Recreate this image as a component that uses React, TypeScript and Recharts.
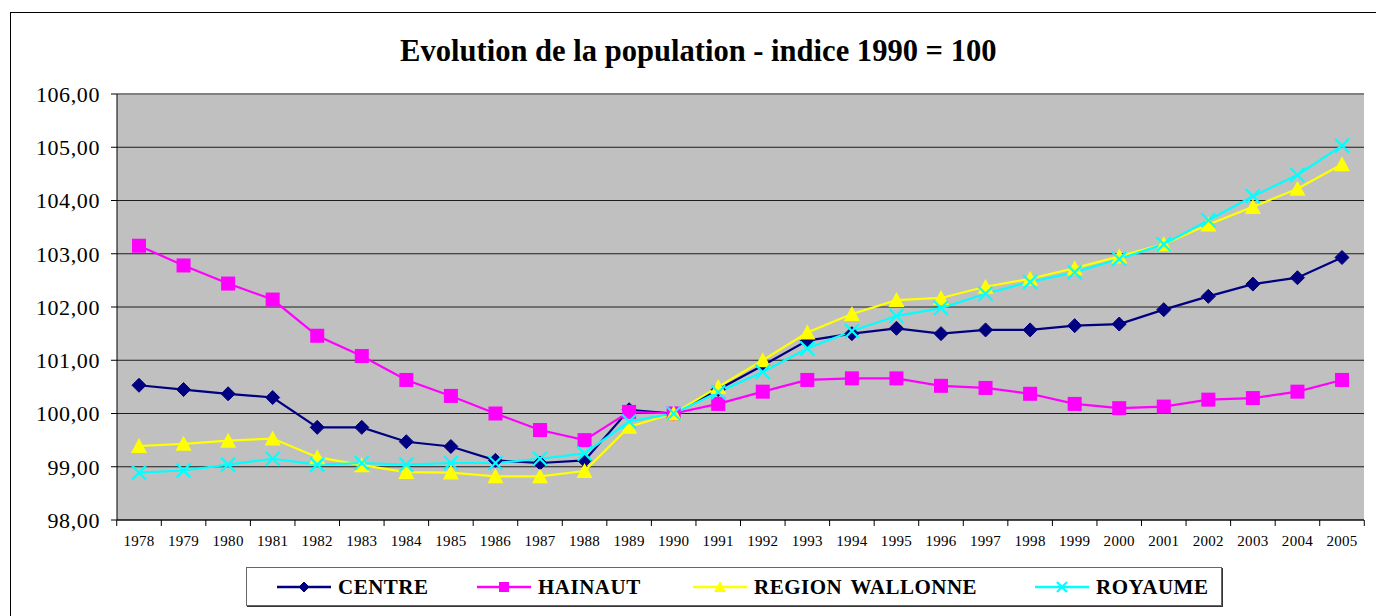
import React from "react";
import {
  LineChart,
  Line,
  XAxis,
  YAxis,
  CartesianGrid,
  Legend,
  ReferenceLine,
} from "recharts";

const years = [
  "1978", "1979", "1980", "1981", "1982", "1983", "1984", "1985", "1986", "1987",
  "1988", "1989", "1990", "1991", "1992", "1993", "1994", "1995", "1996", "1997",
  "1998", "1999", "2000", "2001", "2002", "2003", "2004", "2005",
];

const centre = [
  100.53, 100.45, 100.37, 100.3, 99.74, 99.74, 99.47, 99.38, 99.12, 99.07,
  99.12, 100.07, 100.0, 100.45, 100.9, 101.37, 101.5, 101.6, 101.5, 101.57,
  101.57, 101.65, 101.68, 101.95, 102.2, 102.43, 102.55, 102.93,
];

const hainaut = [
  103.15, 102.78, 102.44, 102.14, 101.46, 101.08, 100.63, 100.33, 100.0, 99.69,
  99.5, 100.03, 100.0, 100.18, 100.41, 100.63, 100.66, 100.66, 100.52, 100.48,
  100.37, 100.18, 100.1, 100.13, 100.26, 100.29, 100.41, 100.63,
];

const wallonne = [
  99.39, 99.43, 99.49, 99.53, 99.18, 99.03, 98.9, 98.89, 98.82, 98.82,
  98.92, 99.75, 100.0, 100.5, 101.0, 101.52, 101.87, 102.13, 102.17, 102.38,
  102.53, 102.73, 102.95, 103.18, 103.55, 103.88, 104.22, 104.68,
];

const royaume = [
  98.89, 98.93, 99.04, 99.15, 99.04, 99.07, 99.04, 99.07, 99.07, 99.15,
  99.25, 99.85, 100.0, 100.4, 100.78, 101.22, 101.55, 101.83, 101.98, 102.25,
  102.47, 102.65, 102.9, 103.18, 103.63, 104.08, 104.48, 105.03,
];

const yTicks = [98, 99, 100, 101, 102, 103, 104, 105, 106];

const seriesNames = ["CENTRE", "HAINAUT", "REGION WALLONNE", "ROYAUME"];
const seriesColors = ["#000080", "#FF00FF", "#FFFF00", "#00FFFF"];
const seriesKeys = ["centre", "hainaut", "wallonne", "royaume"];
const seriesShapes = ["diamond", "square", "triangle", "cross"];

const data = years.map((y, i) => ({
  year: y,
  centre: centre[i],
  hainaut: hainaut[i],
  wallonne: wallonne[i],
  royaume: royaume[i],
}));

const SERIF = "Liberation Serif, serif";

function Marker({ shape, color, cx, cy, s = 7 }: any) {
  if (cx == null || cy == null) return null;
  if (shape === "diamond") {
    return (
      <polygon
        points={`${cx},${cy - s} ${cx + s},${cy} ${cx},${cy + s} ${cx - s},${cy}`}
        fill={color}
        stroke={color}
        strokeWidth={1}
      />
    );
  }
  if (shape === "square") {
    return <rect x={cx - s} y={cy - s} width={2 * s} height={2 * s} fill={color} />;
  }
  if (shape === "triangle") {
    return (
      <polygon
        points={`${cx},${cy - s - 1} ${cx + s + 1},${cy + s} ${cx - s - 1},${cy + s}`}
        fill={color}
      />
    );
  }
  return (
    <g stroke={color} strokeWidth={2.2}>
      <line x1={cx - s} y1={cy - s} x2={cx + s} y2={cy + s} />
      <line x1={cx - s} y1={cy + s} x2={cx + s} y2={cy - s} />
    </g>
  );
}

function makeDot(shape: string, color: string) {
  return (props: any) => (
    <Marker key={`${shape}-${props.index}`} shape={shape} color={color} cx={props.cx} cy={props.cy} />
  );
}

function XTick(props: any) {
  const { x, y, payload, index, width } = props;
  const step = width / years.length;
  return (
    <g>
      <line x1={x - step / 2} y1={y} x2={x - step / 2} y2={y + 6} stroke="#000" />
      {index === years.length - 1 && (
        <line x1={x + step / 2} y1={y} x2={x + step / 2} y2={y + 6} stroke="#000" />
      )}
      <text
        x={x}
        y={y + 21}
        textAnchor="middle"
        dominantBaseline="central"
        fontFamily={SERIF}
        fontSize={15}
        letterSpacing={0.3}
        fill="#000"
      >
        {payload.value}
      </text>
    </g>
  );
}

function LegendContent() {
  const lefts = [30, 230, 446, 788];
  return (
    <div
      style={{
        position: "absolute",
        left: 246,
        top: 567,
        width: 976,
        height: 39,
        border: "1px solid #666",
        boxShadow: "1px 1px 0 #333",
        background: "#fff",
        boxSizing: "border-box",
      }}
    >
      {seriesNames.map((name, i) => (
        <div
          key={name}
          style={{
            position: "absolute",
            left: lefts[i],
            top: 0,
            height: 37,
            display: "flex",
            alignItems: "center",
          }}
        >
          <svg width={54} height={20} style={{ display: "block" }}>
            <line x1={0} y1={10} x2={54} y2={10} stroke={seriesColors[i]} strokeWidth={2.5} />
            <Marker shape={seriesShapes[i]} color={seriesColors[i]} cx={27} cy={10} s={5} />
          </svg>
          <span
            style={{
              marginLeft: 7,
              fontFamily: SERIF,
              fontWeight: "bold",
              fontSize: 21,
              letterSpacing: 0.5,
              wordSpacing: 3,
              lineHeight: "24px",
              color: "#000",
              whiteSpace: "nowrap",
            }}
          >
            {name}
          </span>
        </div>
      ))}
    </div>
  );
}

export default function App() {
  return (
    <div
      style={{
        position: "relative",
        width: 1376,
        height: 616,
        overflow: "hidden",
        background: "#fff",
        fontFamily: SERIF,
      }}
    >
      <style>{`body{margin:0}`}</style>
      <div
        style={{
          position: "absolute",
          left: 10,
          top: 12,
          width: 1400,
          height: 700,
          border: "1px solid #000",
        }}
      />
      <div
        style={{
          position: "absolute",
          left: 0,
          width: 1397,
          top: 31,
          textAlign: "center",
        }}
      >
        <span
          style={{
            display: "inline-block",
            transform: "scaleX(0.955)",
            transformOrigin: "center",
            fontFamily: SERIF,
            fontWeight: "bold",
            fontSize: 32,
            lineHeight: "38px",
            color: "#000",
            whiteSpace: "nowrap",
          }}
        >
          Evolution de la population - indice 1990 = 100
        </span>
      </div>
      <div style={{ position: "absolute", left: 0, top: 0 }}>
        <LineChart
          width={1376}
          height={616}
          data={data}
          margin={{ top: 94, right: 12, left: 0, bottom: 66 }}
        >
          <CartesianGrid
            vertical={false}
            fill="#C0C0C0"
            stroke="#000"
            strokeOpacity={0.85}
          />
          <ReferenceLine y={106} stroke="#808080" strokeWidth={2} />
          <XAxis
            dataKey="year"
            interval={0}
            height={30}
            padding={{ left: 22, right: 22 }}
            tickSize={0}
            tickMargin={0}
            tickLine={false}
            axisLine={{ stroke: "#000" }}
            tick={<XTick />}
          />
          <YAxis
            width={117}
            domain={[98, 106]}
            ticks={yTicks}
            interval={0}
            tickSize={6}
            tickMargin={11}
            axisLine={{ stroke: "#000" }}
            tickLine={{ stroke: "#000" }}
            tickFormatter={(v: number) => v.toFixed(2).replace(".", ",")}
            tick={{ fontFamily: SERIF, fontSize: 22, fill: "#000", letterSpacing: 0.6 }}
          />
          <YAxis
            yAxisId="r"
            orientation="right"
            width={0}
            domain={[98, 106]}
            tick={false}
            tickLine={false}
            axisLine={{ stroke: "#808080", strokeWidth: 2 }}
          />
          {seriesKeys.map((k, i) => (
            <Line
              key={k}
              type="linear"
              dataKey={k}
              name={seriesNames[i]}
              stroke={seriesColors[i]}
              strokeWidth={2.2}
              dot={makeDot(seriesShapes[i], seriesColors[i])}
              activeDot={false}
              isAnimationActive={false}
            />
          ))}
          <Legend content={<LegendContent />} wrapperStyle={{ position: "absolute", left: 0, top: 0, width: 0, height: 0 }} />
        </LineChart>
      </div>
    </div>
  );
}
